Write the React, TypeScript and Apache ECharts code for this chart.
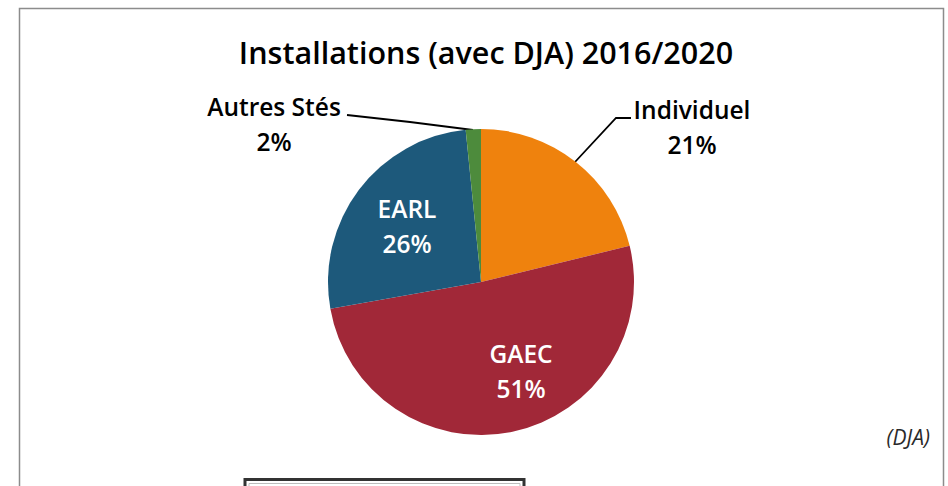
import React, { useEffect, useRef } from "react";
import * as echarts from "echarts";

const categories = ["Individuel", "GAEC", "EARL", "Autres Stés"];
const values = [21.2, 51.0, 26.2, 1.6];
const colors = ["#EF820D", "#A12838", "#1D597B", "#4D8B3C"];
const titleText = "Installations (avec DJA) 2016/2020";
const noteText = "(DJA)";

const FONT = "'Open Sans', 'Noto Sans', sans-serif";

export default function App() {
  const ref = useRef<HTMLDivElement>(null);
  useEffect(() => {
    document.body.style.margin = "0";
    const chart = echarts.init(ref.current!, null, { renderer: "svg" });
    const cx = 481;
    const cy = 282;
    const r = 153;
    const insideIdx = [1, 2];
    const labelPos: Record<number, { x: number; y: number; pts?: number[][] }> = {
      0: { x: 692, y: 127, pts: [[575, 162], [616, 118], [631, 118]] },
      1: { x: 521, y: 371 },
      2: { x: 407, y: 226 },
      3: { x: 274, y: 124, pts: [[473, 130], [410, 122], [347, 115]] },
    };
    chart.setOption({
      animation: false,
      backgroundColor: "#ffffff",
      title: {
        text: titleText,
        left: 481,
        top: 31,
        textAlign: "center",
        textStyle: { fontFamily: FONT, fontSize: 30.5, fontWeight: 600, color: "#000" },
      },
      graphic: [
        {
          type: "rect",
          shape: { x: 19.5, y: 8.5, width: 924, height: 500 },
          style: { fill: "none", stroke: "#8c8c8c", lineWidth: 1.5 },
          z: -1,
        },
        {
          type: "rect",
          shape: { x: 245, y: 479.5, width: 279, height: 30 },
          style: { fill: "#ffffff", stroke: "#333333", lineWidth: 3 },
        },
        {
          type: "rect",
          shape: { x: 249, y: 483.5, width: 271, height: 30 },
          style: { fill: "none", stroke: "#bdbdbd", lineWidth: 1 },
        },
        {
          type: "text",
          x: 930,
          y: 437,
          style: {
            text: noteText,
            fontFamily: FONT,
            fontSize: 21,
            fontStyle: "italic",
            fill: "#2a2a2a",
            align: "right",
            verticalAlign: "middle",
          },
        },
      ],
      series: [
        {
          type: "pie",
          center: [cx, cy],
          radius: [0, r],
          startAngle: 90,
          clockwise: true,
          percentPrecision: 0,
          avoidLabelOverlap: false,
          itemStyle: { borderColor: "#ffffff", borderWidth: 0 },
          label: {
            show: true,
            position: "outside",
            formatter: "{b}\n{d}%",
            fontFamily: FONT,
            fontSize: 24.5,
            fontWeight: 600,
            lineHeight: 35,
            color: "#000",
            align: "center",
          },
          labelLine: { show: true, lineStyle: { color: "#000", width: 1.8 } },
          labelLayout: (params: any) => {
            const p = labelPos[params.dataIndex];
            const out: any = { x: p.x, y: p.y, align: "center", verticalAlign: "middle" };
            if (p.pts) out.labelLinePoints = p.pts;
            return out;
          },
          data: categories.map((name, i) => ({
            name,
            value: values[i],
            itemStyle: { color: colors[i] },
            label: insideIdx.includes(i)
              ? { position: "inside", color: "#ffffff" }
              : undefined,
            labelLine: insideIdx.includes(i) ? { show: false } : undefined,
          })),
        },
      ],
    });
    return () => chart.dispose();
  }, []);
  return <div ref={ref} style={{ width: 948, height: 486 }} />;
}
